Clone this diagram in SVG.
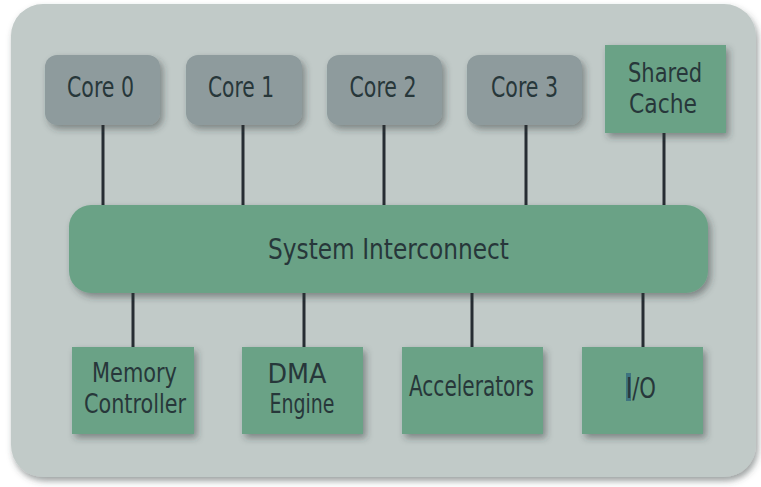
<svg xmlns="http://www.w3.org/2000/svg" width="761" height="487" viewBox="0 0 761 487">
  <defs>
    <filter id="shadow" x="-20%" y="-20%" width="150%" height="160%">
      <feDropShadow dx="3" dy="4" stdDeviation="3.5" flood-color="#2a3335" flood-opacity="0.45"/>
    </filter>
    <filter id="panelShadow" x="-5%" y="-5%" width="110%" height="115%">
      <feDropShadow dx="2" dy="4" stdDeviation="3" flood-color="#3a4446" flood-opacity="0.5"/>
    </filter>
    <style>
      .core { fill: #8e9b9d; filter: url(#shadow); }
      .green { fill: #6ba286; filter: url(#shadow); }
      .label { font-family: "Liberation Sans Narrow", "DejaVu Sans Condensed", "Liberation Sans", sans-serif; font-size: 29px; fill: #27373a; text-anchor: middle; }
      .two { font-size: 26px; }
      .wire { stroke: #262d33; stroke-width: 3; fill: none; }
    </style>
  </defs>

  <rect width="761" height="487" fill="#ffffff"/>

  <!-- chip outline -->
  <rect id="panel" x="11" y="4" width="745" height="473" rx="32" fill="#c1cac8" filter="url(#panelShadow)"/>

  <!-- connectors between blocks and the interconnect -->
  <g id="connectors">
    <line class="wire" x1="103" y1="125" x2="103" y2="206"/>
    <line class="wire" x1="243" y1="125" x2="243" y2="206"/>
    <line class="wire" x1="384" y1="125" x2="384" y2="206"/>
    <line class="wire" x1="526" y1="125" x2="526" y2="206"/>
    <line class="wire" x1="664" y1="133" x2="664" y2="206"/>
    <line class="wire" x1="133" y1="292" x2="133" y2="347"/>
    <line class="wire" x1="304" y1="292" x2="304" y2="347"/>
    <line class="wire" x1="472" y1="292" x2="472" y2="347"/>
    <line class="wire" x1="643" y1="292" x2="643" y2="347"/>
  </g>

  <g id="core0">
    <rect class="core" x="45" y="55" width="115" height="70" rx="12"/>
    <text class="label" x="100.5" y="97" textLength="67" lengthAdjust="spacingAndGlyphs">Core 0</text>
  </g>
  <g id="core1">
    <rect class="core" x="186" y="55" width="116" height="70" rx="12"/>
    <text class="label" x="241" y="97" textLength="66" lengthAdjust="spacingAndGlyphs">Core 1</text>
  </g>
  <g id="core2">
    <rect class="core" x="327" y="55" width="115" height="70" rx="12"/>
    <text class="label" x="383" y="97" textLength="67" lengthAdjust="spacingAndGlyphs">Core 2</text>
  </g>
  <g id="core3">
    <rect class="core" x="467" y="55" width="115" height="70" rx="12"/>
    <text class="label" x="524.5" y="97" textLength="67" lengthAdjust="spacingAndGlyphs">Core 3</text>
  </g>
  <g id="shared-cache">
    <rect class="green" x="605" y="45" width="121" height="88"/>
    <text class="label two" x="665" y="82" textLength="74" lengthAdjust="spacingAndGlyphs">Shared</text>
    <text class="label two" x="663" y="113" textLength="68" lengthAdjust="spacingAndGlyphs">Cache</text>
  </g>

  <g id="interconnect">
    <rect class="green" x="69" y="205" width="639" height="88" rx="22"/>
    <text class="label" x="388.5" y="259" textLength="241" lengthAdjust="spacingAndGlyphs">System Interconnect</text>
  </g>

  <g id="memory-controller">
    <rect class="green" x="72" y="347" width="122" height="87"/>
    <text class="label two" x="134.5" y="382" textLength="85" lengthAdjust="spacingAndGlyphs">Memory</text>
    <text class="label two" x="135" y="413" textLength="102" lengthAdjust="spacingAndGlyphs">Controller</text>
  </g>
  <g id="dma-engine">
    <rect class="green" x="242" y="347" width="121" height="87"/>
    <text class="label two" x="297" y="383" textLength="59" lengthAdjust="spacingAndGlyphs">DMA</text>
    <text class="label two" x="302" y="413" textLength="65" lengthAdjust="spacingAndGlyphs">Engine</text>
  </g>
  <g id="accelerators">
    <rect class="green" x="402" y="347" width="141" height="87"/>
    <text class="label" x="471.5" y="396" textLength="125" lengthAdjust="spacingAndGlyphs">Accelerators</text>
  </g>
  <g id="io">
    <rect class="green" x="582" y="347" width="121" height="87"/>
    <rect x="626" y="373" width="5" height="28" fill="#3f7480"/>
    <text class="label" x="641" y="398" textLength="30" lengthAdjust="spacingAndGlyphs">I/O</text>
  </g>
</svg>
